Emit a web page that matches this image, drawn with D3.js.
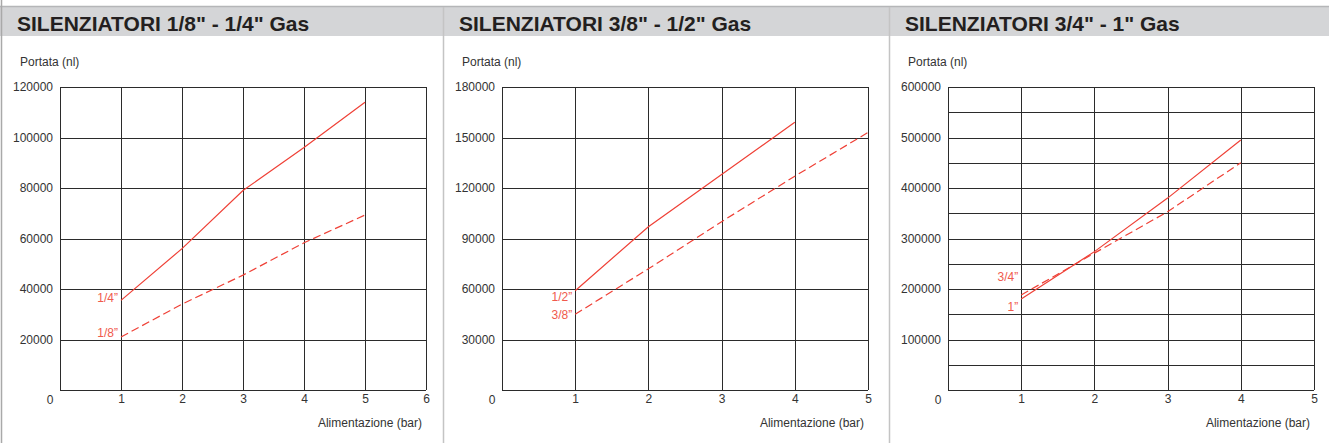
<!DOCTYPE html>
<html>
<head>
<meta charset="utf-8">
<script src="https://cdn.jsdelivr.net/npm/d3@7"></script>
<style>
  body { margin: 0; background: #fff; }
  svg { display: block; font-family: "Liberation Sans", Arial, sans-serif; }
  .title { font-size: 21px; font-weight: bold; fill: #231f20; }
  .lbl { font-size: 12px; fill: #333; }
  .serie { font-size: 12px; fill: #f05a4c; }
  .grid line { stroke: #2b2b2b; stroke-width: 1; shape-rendering: crispEdges; }
</style>
</head>
<body>
<svg id="chart"></svg>
<script>
// SIZE OF PAGE
var W = 1329, H = 443;

// DATA
var titles = ['SILENZIATORI 1/8" - 1/4" Gas', 'SILENZIATORI 3/8" - 1/2" Gas', 'SILENZIATORI 3/4" - 1" Gas'];
var yTitle = "Portata (nl)";
var xTitle = "Alimentazione (bar)";

var xMax = [6, 5, 5];
var yMax = [120000, 180000, 600000];
var yLabelStep = [20000, 30000, 100000];
var yGridStep = [20000, 30000, 50000];

// panel 1
var bar14 = [1, 2, 3, 4, 5];
var flow14 = [35500, 56000, 79000, 96000, 114000];
var bar18 = [1, 2, 3, 4, 5];
var flow18 = [21000, 34000, 45500, 58300, 69300];
// panel 2
var bar12 = [1, 2, 3, 4];
var flow12 = [59000, 97000, 128000, 159000];
var bar38 = [1, 2, 3, 4, 5];
var flow38 = [45000, 72000, 100000, 127000, 153000];
// panel 3
var bar1 = [1, 2, 3, 4];
var flow1 = [180000, 274000, 380000, 495000];
var bar34 = [1, 2, 3, 4];
var flow34 = [188000, 271000, 353000, 450000];

var series = [
  [{name: "1/4”", x: bar14, y: flow14, dash: null, dy: 2},
   {name: "1/8”", x: bar18, y: flow18, dash: "8,4", dy: 0}],
  [{name: "1/2”", x: bar12, y: flow12, dash: null, dy: 10},
   {name: "3/8”", x: bar38, y: flow38, dash: "8,4", dy: 5}],
  [{name: "3/4”", x: bar34, y: flow34, dash: "8,4", dy: -14},
   {name: "1”", x: bar1, y: flow1, dash: null, dy: 12}]
];

var panelX = [0, 442, 888];
var plotL = 60, plotW = 366, plotT = 87, plotB = 390;

var svg = d3.select("#chart").attr("width", W).attr("height", H);

// HEADER BAND AND BORDERS
svg.append("rect").attr("x", 0).attr("y", 7).attr("width", W).attr("height", 29).attr("fill", "#d4d5d7");
svg.append("line").attr("x1", 0).attr("x2", W).attr("y1", 6.5).attr("y2", 6.5)
  .attr("stroke", "#b5b6b8").attr("stroke-width", 1.5);
svg.append("line").attr("x1", 1.5).attr("x2", 1.5).attr("y1", 0).attr("y2", H)
  .attr("stroke", "#a9a9a9").attr("stroke-width", 1.5);
[443.5, 889.5].forEach(function(x) {
  svg.append("line").attr("x1", x).attr("x2", x).attr("y1", 7).attr("y2", H)
    .attr("stroke", "#c4c4c4").attr("stroke-width", 1.5);
});

var line = d3.line();

titles.forEach(function(t, i) {
  var g = svg.append("g").attr("transform", "translate(" + panelX[i] + ",0)");

  g.append("text").attr("class", "title").attr("x", 17).attr("y", 30.5).text(t);
  g.append("text").attr("class", "lbl").attr("x", 20).attr("y", 66).text(yTitle);

  var x = d3.scaleLinear().domain([0, xMax[i]]).range([plotL, plotL + plotW]);
  var y = d3.scaleLinear().domain([0, yMax[i]]).range([plotB, plotT]);

  // GRID
  var grid = g.append("g").attr("class", "grid");
  grid.selectAll(".h").data(d3.range(0, yMax[i] + 1, yGridStep[i])).enter()
    .append("line")
    .attr("x1", plotL).attr("x2", plotL + plotW)
    .attr("y1", function(d) { return Math.round(y(d)) + 0.5; })
    .attr("y2", function(d) { return Math.round(y(d)) + 0.5; });
  grid.selectAll(".v").data(d3.range(0, xMax[i] + 1)).enter()
    .append("line")
    .attr("y1", plotT).attr("y2", plotB)
    .attr("x1", function(d) { return Math.round(x(d)) + 0.5; })
    .attr("x2", function(d) { return Math.round(x(d)) + 0.5; });

  // Y AXIS LABELS
  var yAxis = d3.axisLeft(y)
    .tickValues(d3.range(yLabelStep[i], yMax[i] + 1, yLabelStep[i]))
    .tickSize(0).tickPadding(7).tickFormat(d3.format("d"));
  g.append("g").attr("transform", "translate(" + plotL + ",0)").call(yAxis)
    .call(function(a) { a.select(".domain").remove(); })
    .selectAll("text").attr("class", "lbl").attr("font-size", null).attr("font-family", null);

  // X AXIS LABELS
  var xAxis = d3.axisBottom(x).tickValues(d3.range(1, xMax[i] + 1))
    .tickSize(0).tickPadding(4).tickFormat(d3.format("d"));
  g.append("g").attr("transform", "translate(0," + plotB + ")").call(xAxis)
    .call(function(a) { a.select(".domain").remove(); })
    .selectAll("text").attr("class", "lbl").attr("font-size", null).attr("font-family", null);

  g.append("text").attr("class", "lbl").attr("x", plotL - 10).attr("y", 404)
    .attr("text-anchor", "middle").text("0");
  g.append("text").attr("class", "lbl").attr("x", plotL + plotW - 4).attr("y", 427)
    .attr("text-anchor", "end").text(xTitle);

  // LINES
  series[i].forEach(function(s) {
    var pts = s.x.map(function(v, k) { return [x(v), y(s.y[k])]; });
    g.append("path").attr("d", line(pts))
      .attr("fill", "none").attr("stroke", "#ef4036").attr("stroke-width", 1.2)
      .attr("stroke-dasharray", s.dash);
    g.append("text").attr("class", "serie")
      .attr("x", x(s.x[0]) - 3).attr("y", y(s.y[0]) + s.dy)
      .attr("text-anchor", "end").text(s.name);
  });
});
</script>
</body>
</html>
